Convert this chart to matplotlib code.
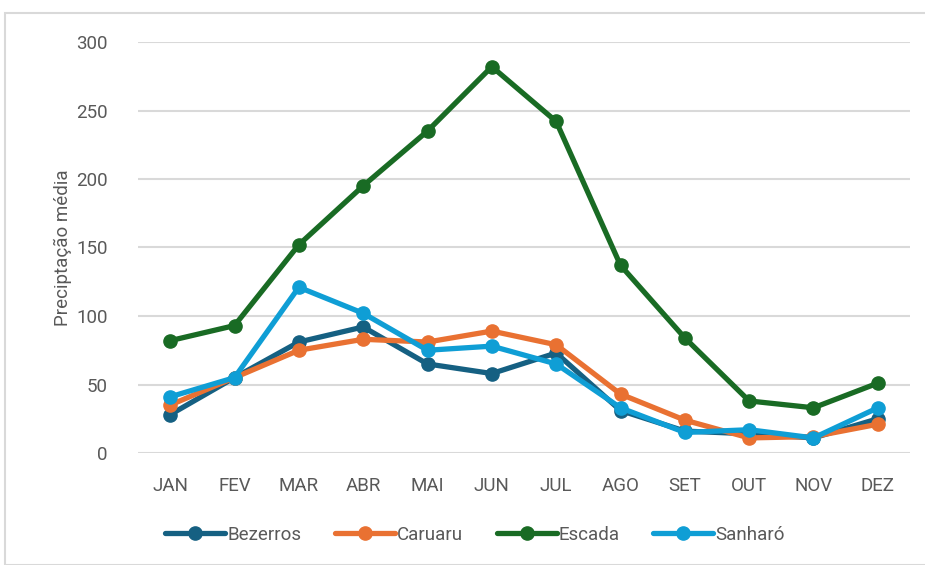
import numpy as np
import matplotlib
matplotlib.use("Agg")
import matplotlib.pyplot as plt
from matplotlib.patches import Rectangle

meses = ["JAN", "FEV", "MAR", "ABR", "MAI", "JUN", "JUL", "AGO", "SET", "OUT", "NOV", "DEZ"]

bezerros = [28, 55, 81, 92, 65, 58, 73, 31, 16, 14, 11, 25]
caruaru = [35, 55, 75, 83, 81, 89, 79, 43, 24, 11, 12, 21]
escada = [82, 93, 152, 195, 235, 282, 242, 137, 84, 38, 33, 51]
sanharo = [41, 55, 121, 102, 75, 78, 65, 33, 15, 17, 11, 33]

series = [("Bezerros", bezerros, "#156082"),
          ("Caruaru", caruaru, "#E97132"),
          ("Escada", escada, "#196B24"),
          ("Sanharó", sanharo, "#0F9ED5")]

plt.rcParams['font.family'] = ['Roboto', 'DejaVu Sans']

fig = plt.figure(figsize=(9.25, 5.65), dpi=100)
# light frame around chart area
fig.patches.append(Rectangle((5/925, 0), 1, 1 - 13/565, transform=fig.transFigure,
                             fill=False, edgecolor="#D9D9D9", linewidth=1.5))

ax = fig.add_axes([138/925, 1 - 453/565, 772/925, 411/565])
x = np.arange(len(meses))
for nome, vals, cor in series:
    ax.plot(x, vals, color=cor, linewidth=3.8, marker="o", markersize=9.5,
            label=nome, solid_capstyle="round")

ax.set_xlim(-0.5, 11.5)
ax.set_ylim(0, 300)
ax.set_yticks([0, 50, 100, 150, 200, 250, 300])
ax.set_xticks(x)
ax.set_xticklabels(meses)
ax.grid(axis="y", color="#D9D9D9", linewidth=1.5)
ax.set_axisbelow(True)
for s in ax.spines.values():
    s.set_visible(False)
ax.tick_params(length=0, colors="#595959", labelsize=13.5)
ax.tick_params(axis="x", pad=17)
ax.tick_params(axis="y", pad=22)
ax.set_ylabel("Preciptação média", color="#595959", fontsize=13.5, labelpad=3)

fig.legend(loc="center", bbox_to_anchor=(475/925, 1 - 535/565), ncol=4, frameon=False,
           fontsize=13.5, labelcolor="#595959", handlelength=3.2, handletextpad=0.1,
           columnspacing=1.8)

fig.savefig("out.png", dpi=100)
